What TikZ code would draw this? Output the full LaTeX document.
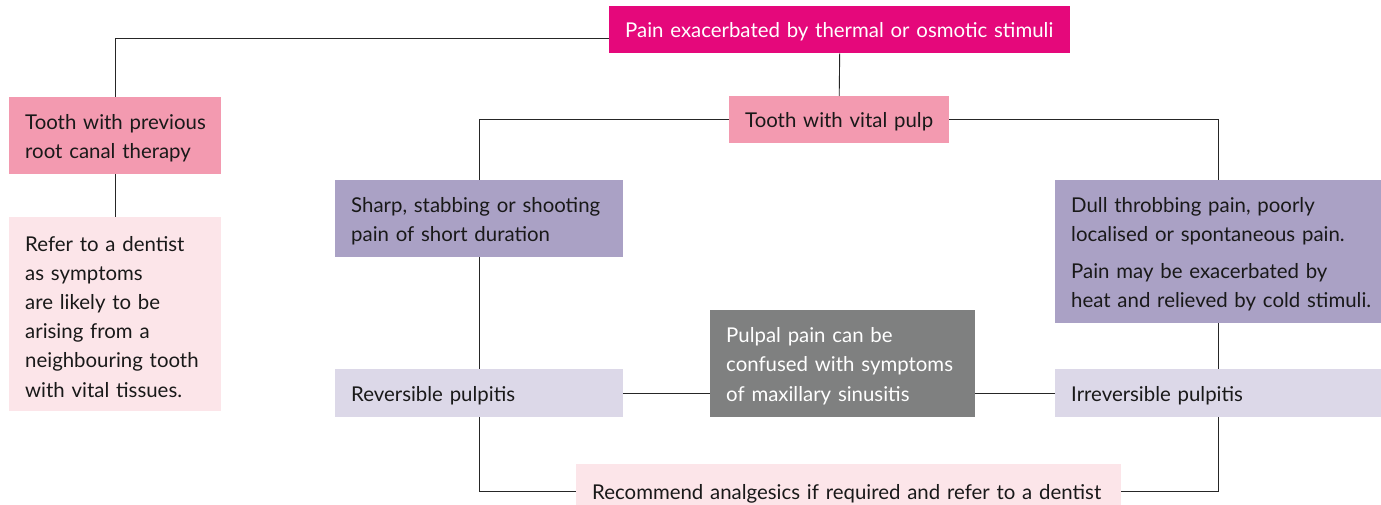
\documentclass[tikz,border=0pt]{standalone}
\usepackage{fontspec}
\setmainfont{Lato}
\usetikzlibrary{positioning}
\definecolor{hotpink}{HTML}{E5087B}
\definecolor{rosepink}{HTML}{F39AB0}
\definecolor{palepink}{HTML}{FCE5E9}
\definecolor{mauve}{HTML}{AAA1C5}
\definecolor{lilac}{HTML}{DCD8E8}
\definecolor{slate}{HTML}{7F8080}
\tikzset{
  box/.style={anchor=north west, inner xsep=16pt, inner ysep=0pt, align=left,
    text=black!90, font=\fontsize{20.4}{29.2}\selectfont, text height=20pt},
  link/.style={draw=black!85, line width=0.9pt},
}

\begin{document}
\begin{tikzpicture}[x=1pt, y=-1pt]
\useasboundingbox (0,0) rectangle (1381,505);
% boxes
\node[box, fill=hotpink, text=white, minimum width=461pt, minimum height=47pt, text width=429pt] (stimuli) at (609,6) {Pain exacerbated by thermal or osmotic stimuli};
\node[box, fill=rosepink, minimum width=220pt, minimum height=47pt, text width=188pt] (vital) at (729,96) {Tooth with vital pulp};
\node[box, fill=rosepink, minimum width=212pt, minimum height=77pt, text width=180pt] (canal) at (9,97) {\mbox{Tooth with previous}\\root canal therapy};
\node[box, fill=palepink, minimum width=212pt, minimum height=194pt, text width=180pt] (refer) at (9,217) {Refer to a dentist\\as symptoms\\are likely to be\\arising from a\\neighbouring tooth\\with vital tissues.};
\node[box, fill=mauve, minimum width=288pt, minimum height=77pt, text width=256pt] (sharp) at (335,180) {Sharp, stabbing or shooting\\pain of short duration};
\node[box, fill=mauve, minimum width=326pt, minimum height=143pt, text width=294pt] (dull) at (1055,180) {Dull throbbing pain, poorly\\localised or spontaneous pain.\\[8pt]Pain may be exacerbated by\\\mbox{heat and relieved by cold stimuli.}};
\node[box, fill=lilac, minimum width=288pt, minimum height=48pt, text width=256pt] (reversible) at (335,369) {Reversible pulpitis};
\node[box, fill=lilac, minimum width=326pt, minimum height=48pt, text width=294pt] (irreversible) at (1055,369) {Irreversible pulpitis};
\node[box, fill=slate, text=white, minimum width=265pt, minimum height=107pt, text width=233pt] (sinus) at (710,310) {Pulpal pain can be\\confused with symptoms\\of maxillary sinusitis};
\node[box, fill=palepink, minimum width=545pt, minimum height=54pt, text width=513pt] (recommend) at (576,464) {Recommend analgesics if required and refer to a dentist};
% connectors
\draw[link] ([yshift=-9pt]stimuli.west) -| (canal.north);
\draw[link] (stimuli.south) -- (vital.north);
\draw[link] (vital.west) -| (sharp.north);
\draw[link] (vital.east) -| (dull.north);
\draw[link] (canal.south) -- (refer.north);
\draw[link] (sharp.south) -- (reversible.north);
\draw[link] (dull.south) -- (irreversible.north);
\draw[link] (reversible.east) -- (reversible.east -| sinus.west);
\draw[link] (sinus.east |- irreversible.west) -- (irreversible.west);
\draw[link] (reversible.south) |- (recommend.west);
\draw[link] (irreversible.south) |- (recommend.east);
\end{tikzpicture}
\end{document}
